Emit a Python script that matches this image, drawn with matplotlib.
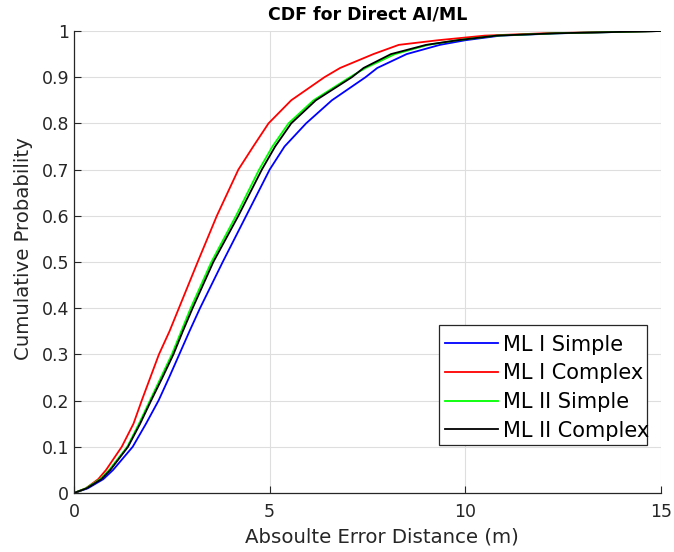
import numpy as np
import matplotlib
matplotlib.use("Agg")
import matplotlib.pyplot as plt
from matplotlib.patches import Rectangle

# CDF levels and corresponding error distances (m) for each model
levels = [0, 0.01, 0.03, 0.05, 0.1, 0.15, 0.2, 0.25, 0.3, 0.35, 0.4, 0.5, 0.6, 0.7,
          0.75, 0.8, 0.85, 0.9, 0.92, 0.95, 0.97, 0.98, 0.99, 0.995, 1.0]
ml1_simple = [0, 0.35, 0.75, 1.0, 1.5, 1.84, 2.16, 2.43, 2.69, 2.95, 3.22, 3.8, 4.4,
              5.0, 5.38, 5.93, 6.59, 7.45, 7.75, 8.5, 9.35, 10.0, 10.9, 12.4, 15.0]
ml1_complex = [0, 0.3, 0.62, 0.82, 1.22, 1.52, 1.73, 1.95, 2.17, 2.44, 2.68, 3.16, 3.65,
               4.2, 4.58, 4.97, 5.55, 6.4, 6.8, 7.65, 8.3, 9.3, 10.5, 12.0, 15.0]
ml2_simple = [0, 0.3, 0.67, 0.9, 1.36, 1.66, 1.94, 2.22, 2.5, 2.74, 2.98, 3.51, 4.14,
              4.73, 5.07, 5.48, 6.12, 7.05, 7.45, 8.2, 9.05, 9.8, 10.8, 12.3, 15.0]
ml2_complex = [0, 0.32, 0.7, 0.93, 1.38, 1.69, 1.97, 2.26, 2.54, 2.78, 3.03, 3.56, 4.2,
               4.8, 5.14, 5.55, 6.18, 7.1, 7.4, 8.1, 9.0, 9.8, 10.8, 12.3, 15.0]
series_labels = ["ML I Simple", "ML I Complex", "ML II Simple", "ML II Complex"]
colors = ["#0000ff", "#ff0000", "#00ff00", "#000000"]

fig = plt.figure(figsize=(6.74, 5.52), dpi=100)
ax = fig.add_axes([74/674, 59/552, 587/674, 462/552])

for xs, lab, c in zip([ml1_simple, ml1_complex, ml2_simple, ml2_complex], series_labels, colors):
    ax.plot(xs, levels, color=c, lw=1.3, label=lab)

ax.set_xlim(0, 15)
ax.set_ylim(0, 1)
ax.set_xticks([0, 5, 10, 15])
ax.set_yticks(np.round(np.arange(0, 1.01, 0.1), 1))
ax.set_yticklabels(["0", "0.1", "0.2", "0.3", "0.4", "0.5", "0.6", "0.7", "0.8", "0.9", "1"])
ax.grid(True, color="#dedede", lw=0.8)
ax.set_axisbelow(True)
for s in ["top", "right"]:
    ax.spines[s].set_visible(False)
for s in ["left", "bottom"]:
    ax.spines[s].set_color("#262626")
    ax.spines[s].set_linewidth(0.9)
ax.tick_params(direction="in", length=5, width=0.8, colors="#262626", labelsize=12.5,
               top=False, right=False)
ax.tick_params(axis="x", pad=7)
ax.set_xlabel("Absoulte Error Distance (m)", fontsize=14.2, color="#262626", labelpad=5)
ax.set_ylabel("Cumulative Probability", fontsize=14.2, color="#262626", labelpad=6)
ax.xaxis.label.set_x(0.524)
ax.yaxis.label.set_y(0.529)
ax.set_title("CDF for Direct AI/ML", fontsize=12.5, fontweight="bold", pad=8)

leg = ax.legend(loc="upper left", bbox_to_anchor=(0.632, 0.343), borderaxespad=0,
                fontsize=15, frameon=False, handlelength=2.55,
                handletextpad=0.25, labelspacing=0.42, borderpad=0)
# legend frame (MATLAB-style box, text slightly overflowing)
ax.add_patch(Rectangle((0.622, 0.104), 0.354, 0.26, transform=ax.transAxes,
                       facecolor="white", edgecolor="#262626", lw=0.9,
                       clip_on=False, zorder=4))
leg.set_zorder(5)

fig.savefig("out.png", dpi=100)
